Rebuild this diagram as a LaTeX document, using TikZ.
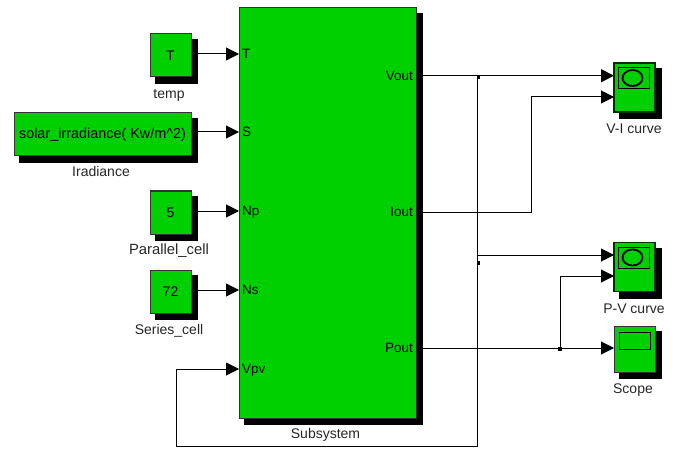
\documentclass[tikz,border=0pt]{standalone}
\usepackage{fontspec}
\setmainfont{Liberation Sans}
\usetikzlibrary{shapes.geometric,arrows.meta,calc}
\definecolor{blockgreen}{RGB}{0,208,0}
\definecolor{scopeedge}{RGB}{0,50,0}

\begin{document}
\begin{tikzpicture}[
  x=1pt, y=-1pt,
  block/.style={
    rectangle, draw=black!80, line width=1pt, fill=blockgreen,
    inner sep=0pt, outer sep=0pt, font=\fontsize{14}{15}\selectfont,
    preaction={draw=black, line width=1.6pt, fill=black, transform canvas={shift={(6.2pt,-6.2pt)}}}
  },
  constblock/.style={block, minimum width=41pt, minimum height=43pt},
  scopeblock/.style={block, draw=scopeedge, line width=1.3pt, minimum width=41pt, minimum height=49pt},
  screen/.style={
    rectangle, draw=black, line width=0.9pt, fill=none,
    minimum width=31pt, minimum height=21pt, inner sep=0pt, outer sep=0pt
  },
  trace/.style={
    ellipse, draw=black, line width=1.8pt, fill=none,
    minimum width=20pt, minimum height=16pt, inner sep=0pt, outer sep=0pt
  },
  signal/.style={
    -{Triangle[length=13pt,width=13pt]},
    line width=1pt, black
  },
  blocklabel/.style={
    font=\fontsize{14}{15}\selectfont, text=black!85, inner sep=0pt,
    text height=10pt, text depth=3pt
  },
  portlabel/.style={
    font=\fontsize{13.5}{15}\selectfont, inner sep=0pt,
    text height=9.6pt, text depth=0pt
  },
  junct/.style={rectangle, fill=black, minimum size=3.6pt, inner sep=0pt, outer sep=0pt}
]
\useasboundingbox (0,0) rectangle (674,449);

% ==================== INPUT BLOCKS ====================

\node (temp) [constblock] at (170.5, 55.5) {T};
\node (irr) [block, minimum width=177pt, minimum height=43pt, font=\fontsize{14.4}{15}\selectfont] at (102.5, 134.5) {solar\_irradiance( Kw/m\textasciicircum 2)};
\node (par) [constblock] at (170.5, 212.5) {5};
\node (ser) [constblock] at (170.5, 291.5) {72};

\node (lbltemp) [blocklabel] at (169, 95) {temp};
\node (lblirr) [blocklabel] at (101, 173) {Iradiance};
\node (lblpar) [blocklabel, font=\fontsize{14.8}{15}\selectfont] at (169, 251) {Parallel\_cell};
\node (lblser) [blocklabel] at (169, 331) {Series\_cell};

% ==================== SUBSYSTEM ====================

\node (sub) [block, minimum width=177pt, minimum height=410pt] at (327.5, 213) {};
\node (lblsub) [blocklabel] at (325.5, 435) {Subsystem};

% Input ports
\node (pT) [portlabel, anchor=west] at (242, 54) {T};
\node (pS) [portlabel, anchor=west] at (242, 132) {S};
\node (pNp) [portlabel, anchor=west] at (242, 211) {Np};
\node (pNs) [portlabel, anchor=west] at (242, 290) {Ns};
\node (pVpv) [portlabel, anchor=west] at (242, 369) {Vpv};

% Output ports
\node (pVout) [portlabel, anchor=east] at (413, 75.7) {Vout};
\node (pIout) [portlabel, anchor=east] at (413, 212) {Iout};
\node (pPout) [portlabel, anchor=east] at (413, 348) {Pout};

% ==================== SCOPES ====================

% V-I curve
\node (vi) [scopeblock] at (634.5, 87.5) {};
\node (viscreen) [screen] at (634, 78) {};
\node (vitrace) [trace] at (632.5, 78) {};
\node (lblvi) [blocklabel] at (634, 130) {V-I curve};

% P-V curve
\node (pv) [scopeblock] at (634.5, 267) {};
\node (pvscreen) [screen] at (634, 257.5) {};
\node (pvtrace) [trace] at (632.5, 257.5) {};
\node (lblpv) [blocklabel] at (634, 310) {P-V curve};

% Scope
\node (scope) [block, minimum width=41pt, minimum height=46pt] at (634.5, 349) {};
\node (scopescreen) [screen, minimum height=17pt] at (635, 340.5) {};
\node (lblscope) [blocklabel] at (633, 390) {Scope};

% ==================== HELPER POINTS ====================

\coordinate (viA) at (614, 75.7);
\coordinate (viB) at (614, 97);
\coordinate (pvA) at (614, 255);
\coordinate (pvB) at (614, 276);

\coordinate (tapV) at (477, 75.7);
\coordinate (tapP) at (477, 255);
\coordinate (fbR) at (477, 446);
\coordinate (fbL) at (176, 446);
\coordinate (bendI) at (531, 212);

\node (jVout) [junct] at (478.5, 77) {};
\node (jBranch) [junct] at (478.5, 263) {};
\node (jPout) [junct] at (560, 349) {};

% ==================== CONNECTIONS ====================

% Constants into the subsystem
\draw [signal] (pT.west -| temp.east) -- (pT.west -| sub.west);
\draw [signal] (pS.west -| irr.east) -- (pS.west -| sub.west);
\draw [signal] (pNp.west -| par.east) -- (pNp.west -| sub.west);
\draw [signal] (pNs.west -| ser.east) -- (pNs.west -| sub.west);

% Vout to V-I curve, with feedback to Vpv
\draw [signal] (pVout.east -| sub.east) -- (viA);
\draw [signal] (tapV) -- (fbR) -- (fbL) |- (pVpv.west -| sub.west);
\draw [signal] (tapP) -- (pvA);

% Iout to V-I curve
\draw [signal] (pIout.east -| sub.east) -- (bendI) |- (viB);

% Pout to Scope and P-V curve
\draw [signal] (pPout.east -| sub.east) -- (scope.west |- pPout.east);
\draw [signal] (jPout.north) |- (pvB);

\end{tikzpicture}
\end{document}
